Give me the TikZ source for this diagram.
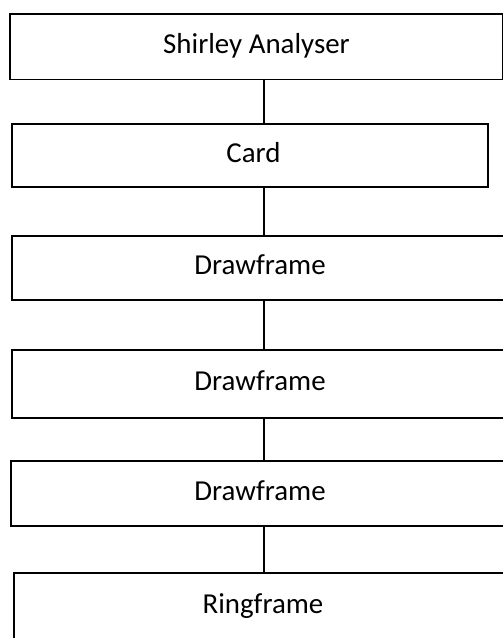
\documentclass[tikz,border=0pt]{standalone}
\usepackage{fontspec}
\setmainfont{Carlito}
\begin{document}
\begin{tikzpicture}[x=1pt,y=-1pt,
  box/.style={draw=black,line width=1.5pt,inner sep=0pt,text height=20.2pt,text depth=7.2pt,
    font=\fontsize{28.9}{34}\selectfont},
  link/.style={draw=black,line width=1.3pt}]
\useasboundingbox (0,0) rectangle (503,638);
\clip (0,0) rectangle (503,638);
\node[box,minimum width=493pt,minimum height=65.3pt] (sa) at (256.5,46.65) {Shirley Analyser};
\node[box,minimum width=476pt,minimum height=63pt] (card) at (250,155.5) {\hspace*{7pt}Card};
\node[box,minimum width=496pt,minimum height=64pt] (df1) at (260,268) {Drawframe};
\node[box,minimum width=496pt,minimum height=68pt] (df2) at (260,384) {Drawframe};
\node[box,minimum width=498pt,minimum height=65pt] (df3) at (260,493.5) {Drawframe};
\node[box,line width=2pt,minimum width=498pt,minimum height=67pt] (ring) at (263,606.5) {Ringframe};
\coordinate (cx) at (264,0);
\draw[link] (sa.south -| cx) -- (card.north -| cx);
\draw[link] (card.south -| cx) -- (df1.north -| cx);
\draw[link] (df1.south -| cx) -- (df2.north -| cx);
\draw[link] (df2.south -| cx) -- (df3.north -| cx);
\draw[link] (df3.south -| cx) -- (ring.north -| cx);
\end{tikzpicture}
\end{document}
